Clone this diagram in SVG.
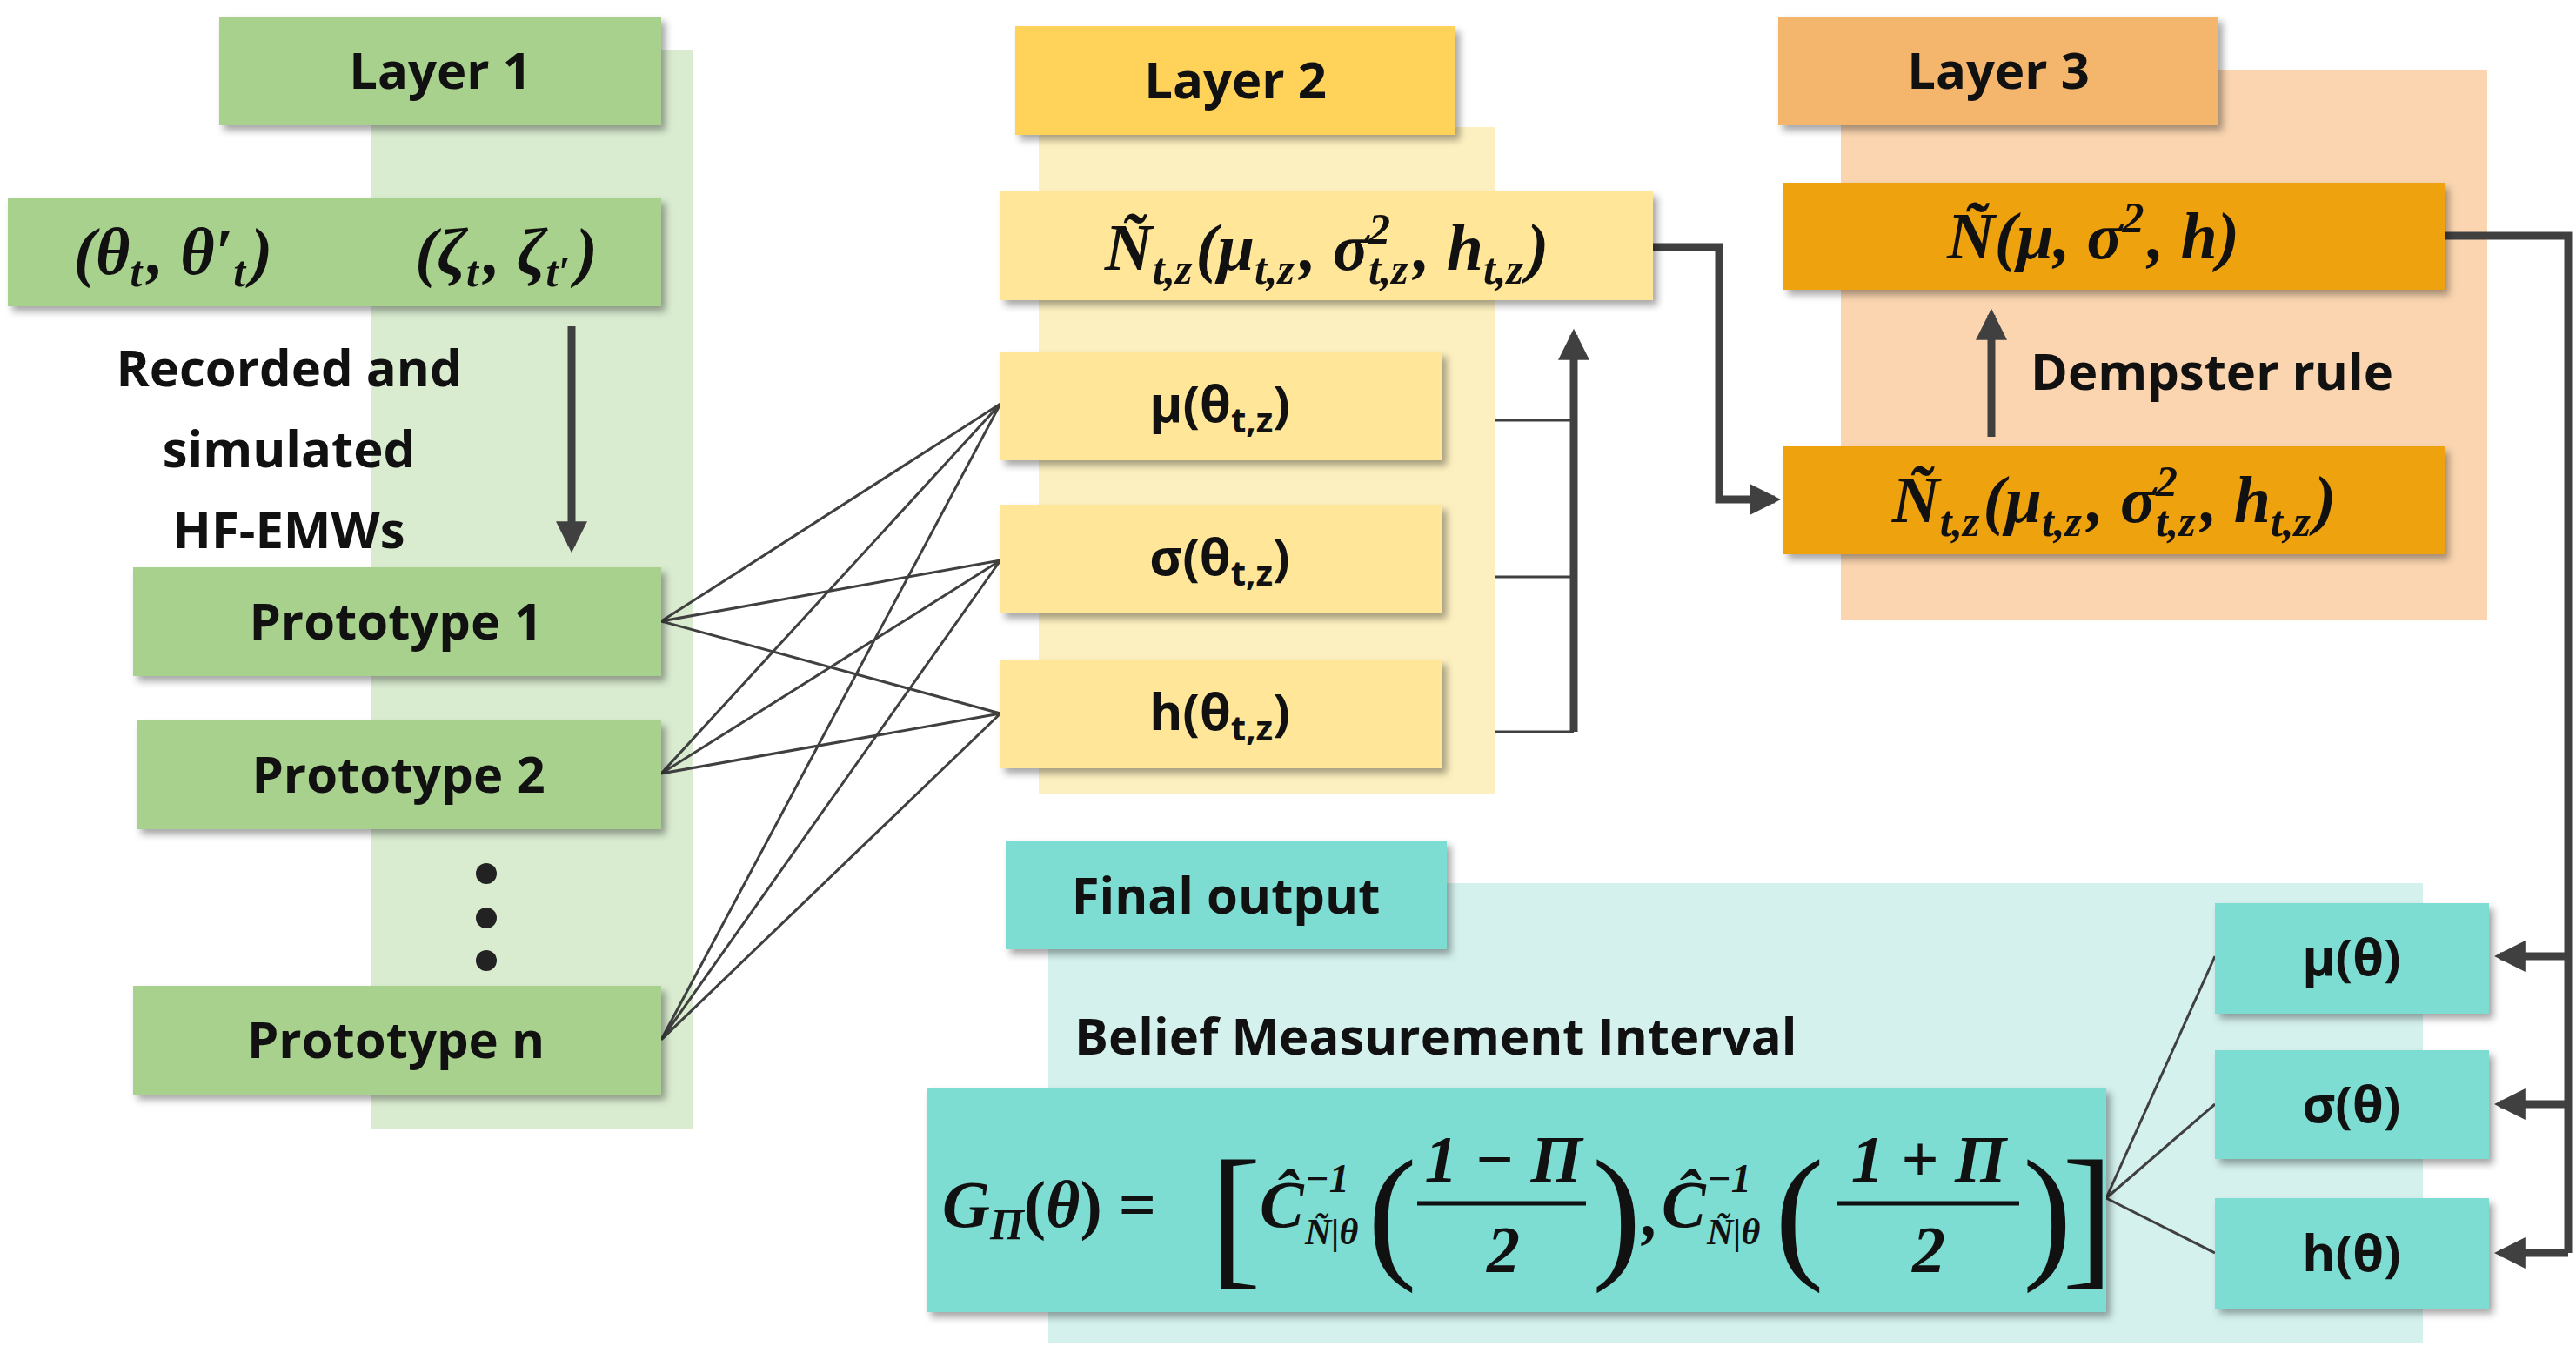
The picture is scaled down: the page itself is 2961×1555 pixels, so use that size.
<svg xmlns="http://www.w3.org/2000/svg" width="2961" height="1555" viewBox="0 0 2961 1555">
<defs>
<filter id="sh" x="-10%" y="-10%" width="130%" height="140%"><feDropShadow dx="5" dy="6" stdDeviation="4" flood-color="#000" flood-opacity="0.35"/></filter>
<marker id="ah" viewBox="0 0 10 10" refX="8" refY="5" markerWidth="4" markerHeight="4" orient="auto"><path d="M0,0 L10,5 L0,10 z" fill="#404040"/></marker>
<style>
.h{font-family:"Open Sans","DejaVu Sans",sans-serif;font-weight:bold;font-size:58px;fill:#111;text-anchor:middle}
.hs{font-family:"Open Sans","DejaVu Sans",sans-serif;font-weight:bold;font-size:58px;fill:#111;text-anchor:start}
.m{font-family:"Liberation Serif",serif;font-weight:bold;font-style:italic;font-size:76px;fill:#111}
.mc{font-family:"Liberation Serif",serif;font-weight:bold;font-style:italic;font-size:76px;fill:#111;text-anchor:middle}
.r{font-family:"Liberation Serif",serif;font-weight:normal;fill:#111}
.ri{font-family:"Liberation Serif",serif;font-weight:bold;font-style:italic;fill:#111}
.ln{stroke:#404040;stroke-width:3;fill:none}
.th{stroke:#404040;stroke-width:9;fill:none}
.b{filter:url(#sh)}
.sb{font-size:50px}
</style>
</defs>
<rect width="2961" height="1555" fill="#fff"/>
<rect x="426" y="57" width="370" height="1241" fill="#d9ecd0"/>
<rect x="1194" y="146" width="524" height="767" fill="#fdf0c0"/>
<rect x="2116" y="80" width="743" height="632" fill="#fbd5b0"/>
<rect x="1205" y="1015" width="1580" height="529" fill="#d4f1ee"/>
<g id="connectors">
<path class="ln" d="M760,714 L1150,464 M760,714 L1150,644 M760,714 L1150,820 M760,889 L1150,464 M760,889 L1150,644 M760,889 L1150,820 M760,1195 L1150,464 M760,1195 L1150,644 M760,1195 L1150,820"/>
<path class="ln" stroke-width="5" d="M1718,483 L1809,483 M1718,663 L1809,663 M1718,841 L1809,841"/>
<path class="th" d="M1809,841 L1809,385" marker-end="url(#ah)"/>
<path class="th" d="M657,375 L657,628" marker-end="url(#ah)"/>
<path class="th" d="M1900,284 L1976,284 L1976,574 L2040,574" marker-end="url(#ah)"/>
<path class="th" d="M2289,502 L2289,362" marker-end="url(#ah)"/>
<path class="th" d="M2810,271 L2952,271 L2952,1440"/>
<path class="th" d="M2952,1099 L2874,1099" marker-end="url(#ah)"/>
<path class="th" d="M2952,1269 L2874,1269" marker-end="url(#ah)"/>
<path class="th" d="M2952,1440 L2874,1440" marker-end="url(#ah)"/>
<path class="ln" d="M2421,1377 L2546,1099 M2421,1377 L2546,1269 M2421,1377 L2546,1440"/>
</g>
<g id="layer1"><rect class="b" x="252" y="19" width="508" height="125" fill="#a9d18e"/><text class="h" x="506" y="102">Layer 1</text></g>
<g id="input"><rect class="b" x="9" y="227" width="751" height="125" fill="#a9d18e"/>
<text class="mc" x="199" y="315">(θ<tspan class="sb" dy="14">t</tspan><tspan dx="6" dy="-14">, θ′</tspan><tspan class="sb" dy="14">t</tspan><tspan dx="6" dy="-14">)</tspan></text>
<text class="mc" x="582" y="315">(ζ<tspan class="sb" dy="14">t</tspan><tspan dx="6" dy="-14">, ζ</tspan><tspan class="sb" dy="14">t′</tspan><tspan dx="6" dy="-14">)</tspan></text></g>
<g id="recorded"><text class="h" x="332" y="444">Recorded and</text><text class="h" x="332" y="537">simulated</text><text class="h" x="332" y="630">HF-EMWs</text></g>
<g id="p1"><rect class="b" x="153" y="652" width="607" height="125" fill="#a9d18e"/><text class="h" x="455" y="735">Prototype 1</text></g>
<g id="p2"><rect class="b" x="157" y="828" width="603" height="125" fill="#a9d18e"/><text class="h" x="458" y="911">Prototype 2</text></g>
<g id="dots" fill="#222"><circle cx="559" cy="1004" r="12"/><circle cx="559" cy="1055" r="12"/><circle cx="559" cy="1104" r="12"/></g>
<g id="pn"><rect class="b" x="153" y="1133" width="607" height="125" fill="#a9d18e"/><text class="h" x="455" y="1216">Prototype n</text></g>
<g id="layer2"><rect class="b" x="1167" y="30" width="506" height="125" fill="#ffd35a"/><text class="h" x="1420" y="113">Layer 2</text></g>
<g id="l2f"><rect class="b" x="1150" y="220" width="750" height="125" fill="#ffe699"/>
<text class="mc" x="1525" y="310">Ñ<tspan class="sb" dy="16">t,z</tspan><tspan dx="4" dy="-16">(μ</tspan><tspan class="sb" dy="16">t,z</tspan><tspan dx="6" dy="-16">, σ</tspan><tspan class="sb" dy="-30">2</tspan><tspan class="sb" dx="-25" dy="46">t,z</tspan><tspan dx="6" dy="-16">, h</tspan><tspan class="sb" dy="16">t,z</tspan><tspan dx="4" dy="-16">)</tspan></text></g>
<g id="mu"><rect class="b" x="1150" y="404" width="508" height="125" fill="#ffe699"/><text class="h" x="1402" y="485">μ(θ<tspan font-size="40" dy="12">t,z</tspan><tspan dy="-12">)</tspan></text></g>
<g id="sig"><rect class="b" x="1150" y="580" width="508" height="125" fill="#ffe699"/><text class="h" x="1402" y="661">σ(θ<tspan font-size="40" dy="12">t,z</tspan><tspan dy="-12">)</tspan></text></g>
<g id="hh"><rect class="b" x="1150" y="758" width="508" height="125" fill="#ffe699"/><text class="h" x="1402" y="839">h(θ<tspan font-size="40" dy="12">t,z</tspan><tspan dy="-12">)</tspan></text></g>
<g id="layer3"><rect class="b" x="2044" y="19" width="506" height="125" fill="#f4b56c"/><text class="h" x="2297" y="102">Layer 3</text></g>
<g id="n3"><rect class="b" x="2050" y="210" width="760" height="123" fill="#eea211"/>
<text class="mc" x="2406" y="297">Ñ(μ, σ<tspan class="sb" dy="-30">2</tspan><tspan dx="4" dy="30">, h)</tspan></text></g>
<g id="dempster"><text class="hs" x="2334" y="448">Dempster rule</text></g>
<g id="n3b"><rect class="b" x="2050" y="513" width="760" height="124" fill="#eea211"/>
<text class="mc" x="2430" y="600">Ñ<tspan class="sb" dy="16">t,z</tspan><tspan dx="4" dy="-16">(μ</tspan><tspan class="sb" dy="16">t,z</tspan><tspan dx="6" dy="-16">, σ</tspan><tspan class="sb" dy="-30">2</tspan><tspan class="sb" dx="-25" dy="46">t,z</tspan><tspan dx="6" dy="-16">, h</tspan><tspan class="sb" dy="16">t,z</tspan><tspan dx="4" dy="-16">)</tspan></text></g>
<g id="final"><rect class="b" x="1156" y="966" width="507" height="125" fill="#7dddd3"/><text class="h" x="1409" y="1050">Final output</text></g>
<g id="belief"><text class="hs" x="1235" y="1212">Belief Measurement Interval</text></g>
<g id="gbox"><rect class="b" x="1065" y="1250" width="1356" height="258" fill="#7dddd3"/>
<text class="m" x="1083" y="1410">G<tspan class="sb" dy="14">Π</tspan><tspan dy="-14" font-style="normal">(</tspan>θ<tspan font-style="normal">) =</tspan></text>
<text class="r" x="1390" y="1458" font-size="180">[</text>
<text class="m" x="1448" y="1410">Ĉ</text>
<text class="ri" x="1500" y="1370" font-size="46">−1</text>
<text class="ri" x="1500" y="1430" font-size="42">Ñ|θ</text>
<text class="r" x="1572" y="1450" font-size="170">(</text>
<text class="mc" x="1728" y="1358">1 − Π</text>
<line x1="1629" y1="1383" x2="1823" y2="1383" stroke="#111" stroke-width="5"/>
<text class="mc" x="1728" y="1462">2</text>
<text class="r" x="1830" y="1450" font-size="170">)</text>
<text class="m" x="1888" y="1420">,</text>
<text class="m" x="1910" y="1410">Ĉ</text>
<text class="ri" x="1962" y="1370" font-size="46">−1</text>
<text class="ri" x="1962" y="1430" font-size="42">Ñ|θ</text>
<text class="r" x="2040" y="1450" font-size="170">(</text>
<text class="mc" x="2217" y="1358">1 + Π</text>
<line x1="2112" y1="1383" x2="2321" y2="1383" stroke="#111" stroke-width="5"/>
<text class="mc" x="2217" y="1462">2</text>
<text class="r" x="2325" y="1450" font-size="170">)</text>
<text class="r" x="2370" y="1458" font-size="180">]</text></g>
<g id="fmu"><rect class="b" x="2546" y="1038" width="315" height="127" fill="#7dddd3"/><text class="h" x="2703" y="1121">μ(θ)</text></g>
<g id="fsig"><rect class="b" x="2546" y="1207" width="315" height="125" fill="#7dddd3"/><text class="h" x="2703" y="1290">σ(θ)</text></g>
<g id="fh"><rect class="b" x="2546" y="1377" width="315" height="127" fill="#7dddd3"/><text class="h" x="2703" y="1461">h(θ)</text></g>
</svg>
